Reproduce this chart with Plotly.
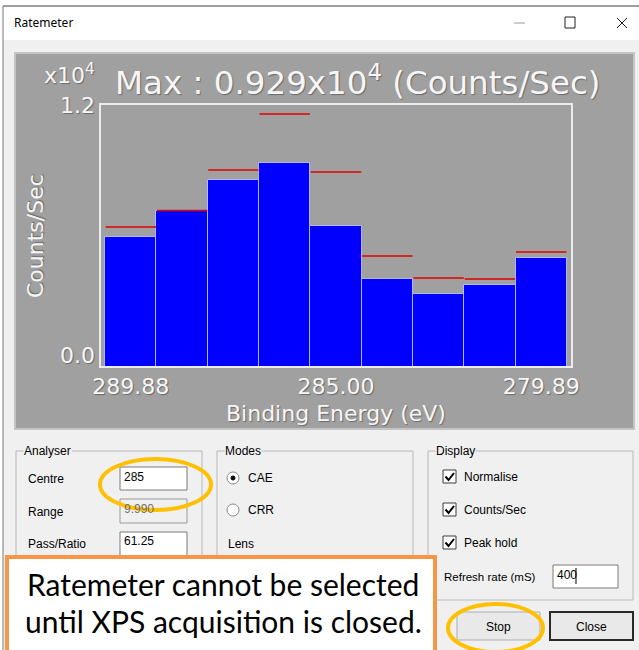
import plotly.graph_objects as go

# ---------------- data (counts in units of 10^4 counts/sec) -------------
energies = ["289.88", "288.63", "287.38", "286.13", "285.00", "283.63", "282.38", "281.13", "279.89"]
counts = [0.593, 0.712, 0.853, 0.929, 0.643, 0.402, 0.333, 0.374, 0.497]
peak_hold = [0.639, 0.714, 0.899, 1.154, 0.890, 0.506, 0.406, 0.402, 0.525]
x_tick_labels = ["289.88", "285.00", "279.89"]
y_tick_values = [0.0, 1.2]
y_tick_labels = ["0.0", "1.2"]
y_tick_shift = [12, -1]

W, H = 639, 650
CHART_FONT = "DejaVu Sans"
UI_FONT = "Liberation Sans"
WHITE_TXT = "#f6f6f6"
SHADOW = "1px 1px 1px #6a6a6a"

shapes = []
annotations = []


def X(px):
    return px / W


def Y(py):
    return 1 - py / H


def rect(x0, y0, x1, y1, fill=None, line="rgba(0,0,0,0)", lw=1, layer="above"):
    shapes.append(dict(type="rect", xref="paper", yref="paper",
                       x0=X(x0), x1=X(x1), y0=Y(y1), y1=Y(y0),
                       fillcolor=fill if fill else "rgba(0,0,0,0)",
                       line=dict(color=line, width=lw), layer=layer))


def line(x0, y0, x1, y1, color, lw=1, layer="above"):
    shapes.append(dict(type="line", xref="paper", yref="paper",
                       x0=X(x0), x1=X(x1), y0=Y(y0), y1=Y(y1),
                       line=dict(color=color, width=lw), layer=layer))


def ellipse(x0, y0, x1, y1, color, lw=1, fill=None, layer="above"):
    shapes.append(dict(type="circle", xref="paper", yref="paper",
                       x0=X(x0), x1=X(x1), y0=Y(y1), y1=Y(y0),
                       fillcolor=fill if fill else "rgba(0,0,0,0)",
                       line=dict(color=color, width=lw), layer=layer))


def path(points, color, lw=1):
    d = "M " + " L ".join(f"{X(a):.5f},{Y(b):.5f}" for a, b in points)
    shapes.append(dict(type="path", xref="paper", yref="paper", path=d,
                       line=dict(color=color, width=lw), layer="above"))


def text(x, y, s, size=12, color="#000000", family=UI_FONT, xanchor="left",
         bg=None, **kw):
    a = dict(x=X(x), y=Y(y), xref="paper", yref="paper", text=s, showarrow=False,
             xanchor=xanchor, yanchor="middle", borderpad=0,
             font=dict(size=size, color=color, family=family))
    if bg:
        a["bgcolor"] = bg
    a.update(kw)
    annotations.append(a)


# ---------------- window frame ----------------
rect(0, 0, 639, 650, fill="#ffffff", layer="below")
rect(3, 40, 639, 650, fill="#f0f0f0", layer="below")
line(3, 6, 639, 6, "#3c3c3c", 1, layer="below")
line(3, 6, 3, 650, "#7a7a7a", 1, layer="below")
text(13, 23, "Ratemeter", size=12, family="Noto Sans")
line(514, 23, 525, 23, "#9a9a9a", 1)
rect(565, 17, 575, 28, line="#202020", lw=1)
line(617, 18, 627, 28, "#202020", 1)
line(627, 18, 617, 28, "#202020", 1)

# ---------------- chart panel ----------------
rect(15, 53, 634, 429, fill="#a0a0a0", line="#c4c4c4", lw=2, layer="below")
rect(100, 104, 572, 367, line="#ececec", lw=2)

# ---------------- group boxes ----------------
GB = "#b8b8b8"
for (x0, x1, lab) in [(16, 202, "Analyser"), (217, 413, "Modes"), (428, 633, "Display")]:
    rect(x0, 451, x1, 700 if lab != "Display" else 600, line=GB, lw=1)
    text(x0 + 7, 451, lab, size=12, bg="#f0f0f0")

# Analyser
text(27, 479, "Centre")
text(27, 512, "Range")
text(27, 544, "Pass/Ratio")
rect(120, 467, 187, 490, fill="#ffffff", line="#7a7a7a")
rect(120, 499, 187, 523, fill="#f0f0f0", line="#9a9a9a")
rect(120, 532, 187, 556, fill="#ffffff", line="#7a7a7a")
text(123, 477, "285")
text(123, 509, "9.990", color="#707070")
text(123, 541, "61.25")

# Modes
ellipse(227, 472, 239, 484, "#8a8a8a", 1, fill="#ffffff")
ellipse(231, 476, 235, 480, "#000000", 1, fill="#000000")
ellipse(227, 504, 239, 516, "#8a8a8a", 1, fill="#ffffff")
text(247, 478, "CAE")
text(247, 510, "CRR")
text(227, 544, "Lens")

# Display
for yy, lab in [(477, "Normalise"), (510, "Counts/Sec"), (543, "Peak hold")]:
    rect(443, yy - 7, 456, yy + 6, fill="#ffffff", line="#3c3c3c")
    path([(445.5, yy - 0.5), (448.5, yy + 3), (454, yy - 4)], "#000000", 2)
    text(463, yy, lab)
text(443, 577, "Refresh rate (mS)", size=11.5)
rect(553, 565, 618, 588, fill="#ffffff", line="#7a7a7a")
text(556, 575, "400")
line(576, 568, 576, 584, "#000000", 1)

# Buttons
rect(457, 612, 540, 640, fill="#e9e9e9", line="#adadad")
text(498.5, 627, "Stop", xanchor="center")
rect(550, 612, 633, 640, fill="#e9e9e9", line="#2a2a2a", lw=2)
text(591.5, 627, "Close", xanchor="center")

# Callout box
rect(7, 557, 435, 660, fill="#ffffff", line="#f79646", lw=4)
text(223, 584, "Ratemeter cannot be selected", size=30, family="Lato", xanchor="center")
text(223, 621, "until XPS acquisition is closed.", size=30, family="Lato", xanchor="center")

# Highlight ellipses
ellipse(100, 459, 211, 510, "#ffc000", 4)
ellipse(448, 604, 543, 652, "#ffc000", 4)

# ---------------- chart texts ----------------
max_val = max(counts)
text(358, 80, f"Max : {max_val:.3f}x10<sup>4</sup> (Counts/Sec)", size=32.5,
     color=WHITE_TXT, family=CHART_FONT, xanchor="center")
annotations[-1]["font"]["shadow"] = SHADOW
text(96, 74, "x10<sup>4</sup>", size=22, color=WHITE_TXT, family=CHART_FONT, xanchor="right")
annotations[-1]["font"]["shadow"] = SHADOW
text(35, 236, "Counts/Sec", size=22, color=WHITE_TXT, family=CHART_FONT,
     xanchor="center", textangle=-90)
annotations[-1]["font"]["shadow"] = SHADOW
text(336, 413, "Binding Energy (eV)", size=22, color=WHITE_TXT, family=CHART_FONT,
     xanchor="center")
annotations[-1]["font"]["shadow"] = SHADOW
for v, lab, sh in zip(y_tick_values, y_tick_labels, y_tick_shift):
    annotations.append(dict(x=X(96), xref="paper", y=v, yref="y", text=lab,
                            showarrow=False, xanchor="right", yanchor="middle",
                            yshift=sh, borderpad=0,
                            font=dict(size=22, color=WHITE_TXT, family=CHART_FONT,
                                      shadow=SHADOW)))

# ---------------- traces ----------------
fig = go.Figure()
fig.add_trace(go.Bar(x=energies, y=counts, marker=dict(color="#0000ff",
                     line=dict(color="#b4b4ff", width=1)), hoverinfo="skip"))
fig.add_trace(go.Scatter(x=energies, y=peak_hold, mode="markers", hoverinfo="skip",
                         marker=dict(symbol="line-ew", size=36, color="#e00000",
                                     line=dict(color="#e00000", width=1.5))))

fig.update_layout(
    width=W, height=H, margin=dict(l=0, r=0, t=0, b=0, pad=0, autoexpand=False),
    paper_bgcolor="#f0f0f0", plot_bgcolor="#a0a0a0",
    showlegend=False, bargap=0,
    shapes=shapes, annotations=annotations,
    xaxis=dict(type="category", categoryorder="array", categoryarray=energies,
               domain=[X(100), X(572)], range=[-0.6, 8.6],
               showgrid=False, zeroline=False, showline=False, ticks="",
               tickvals=x_tick_labels, ticktext=x_tick_labels,
               tickfont=dict(size=22, color=WHITE_TXT, family=CHART_FONT, shadow=SHADOW),
               ticklabelstandoff=4, fixedrange=True, automargin=False),
    yaxis=dict(range=[0, 1.2], domain=[Y(367), Y(104)], showgrid=False, automargin=False,
               zeroline=False, showline=False, showticklabels=False, fixedrange=True),
)

POST = (
    "var de=document.documentElement, b=document.body;"
    "de.style.margin='0'; de.style.padding='0'; de.style.overflow='hidden';"
    "b.style.margin='0'; b.style.padding='0'; b.style.overflow='hidden';"
    "var g=document.getElementById('{plot_id}');"
    "g.style.position='absolute'; g.style.left='0px'; g.style.top='0px';"
)

fig.write_html("out.html", config={"displayModeBar": False, "responsive": False},
               post_script=POST)
